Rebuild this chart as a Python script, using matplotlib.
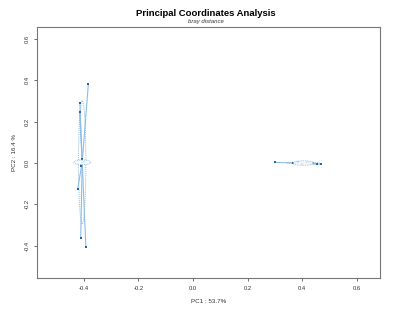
import numpy as np
import matplotlib.pyplot as plt
from matplotlib.patches import Ellipse

plt.rcParams['font.family'] = ['Liberation Sans', 'DejaVu Sans']

# group 1 (left cluster)
g1_x = [-0.383, -0.414, -0.415, -0.405, -0.398, -0.410, -0.422, -0.411, -0.392]
g1_y = [0.383, 0.289, 0.245, 0.020, 0.005, -0.015, -0.124, -0.365, -0.407]
# group 2 (right cluster)
g2_x = [0.300, 0.365, 0.385, 0.400, 0.418, 0.438, 0.455, 0.470]
g2_y = [0.003, 0.000, 0.005, -0.004, 0.004, 0.000, -0.004, -0.006]

x_ticks = [-0.4, -0.2, 0.0, 0.2, 0.4, 0.6]
y_ticks = [-0.4, -0.2, 0.0, 0.2, 0.4, 0.6]

pt_col = '#2563a6'
ln_col = '#8dbde3'

fig = plt.figure(figsize=(4.11, 3.2), dpi=100)
ax = fig.add_axes([0.090, 0.131, 0.835, 0.785])


def draw_group(xs, ys, box_w, pt_size):
    xs = np.array(xs)
    ys = np.array(ys)
    cx, cy = xs.mean(), ys.mean()
    # star segments
    for x, y in zip(xs, ys):
        ax.plot([cx, x], [cy, y], color=ln_col, lw=0.8, zorder=2)
    # dispersion ellipse
    w = 2.3 * xs.std()
    h = 2.3 * ys.std()
    ax.add_patch(Ellipse((cx, cy), w, h, fill=False, ec=ln_col, lw=0.7,
                         ls=(0, (1, 1)), zorder=2))
    ax.scatter(xs, ys, s=pt_size, marker='s', color=pt_col, zorder=3, linewidths=0)
    # label box at centroid
    ax.add_patch(Ellipse((cx, cy), box_w, 0.022, fill=True, fc='white',
                         ec=ln_col, lw=0.7, ls=(0, (1, 0.8)), alpha=0.85, zorder=4))


draw_group(g1_x, g1_y, 0.063, 2.2)
draw_group(g2_x, g2_y, 0.075, 1.2)

ax.set_xlim(-0.571, 0.685)
ax.set_ylim(-0.557, 0.659)
ax.set_xticks(x_ticks)
ax.set_yticks(y_ticks)
ax.set_xticklabels(['%.1f' % v for v in x_ticks])
ax.set_yticklabels(['%.1f' % v for v in y_ticks], rotation=90, va='center')
ax.tick_params(labelsize=4.2, length=2.5, width=0.6, color='#555555',
               labelcolor='#333333', pad=3)
for s in ax.spines.values():
    s.set_color('#777777')
    s.set_linewidth(0.8)

ax.set_xlabel('PC1 : 53.7%', fontsize=4.5, color='#333333', labelpad=6)
ax.set_ylabel('PC2 : 16.4 %', fontsize=4.5, color='#333333', labelpad=5)

fig.text(0.5, 0.958, 'Principal Coordinates Analysis', ha='center', va='center',
         fontsize=6.8, fontweight='bold')
fig.text(0.5, 0.933, 'bray distance', ha='center', va='center',
         fontsize=4.3, style='italic', color='#333333')

fig.savefig('out.png', dpi=100)
